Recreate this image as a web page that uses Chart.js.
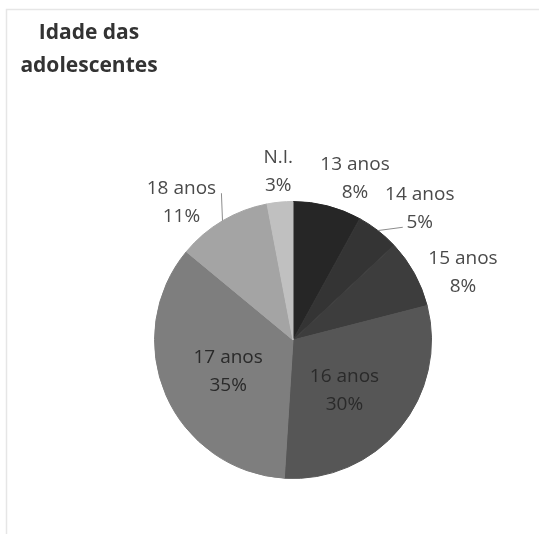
<!DOCTYPE html>
<html>
<head>
<meta charset="utf-8">
<script src="https://cdn.jsdelivr.net/npm/chart.js@4/dist/chart.umd.min.js"></script>
<style>
html,body{margin:0;padding:0;background:#fff;}
canvas{display:block;}
</style>
</head>
<body>
<canvas id="c" width="539" height="534"></canvas>
<script>
// ---- data ----
const categories = ['13 anos', '14 anos', '15 anos', '16 anos', '17 anos', '18 anos', 'N.I.'];
const shares = [8, 5, 8, 30, 35, 11, 3];
const pctLabels = ['8%', '5%', '8%', '30%', '35%', '11%', '3%'];
const titleLines = ['Idade das', 'adolescentes'];

// ---- style ----
const sliceColors = ['#262626', '#343434', '#3d3d3d', '#565656', '#7e7e7e', '#a4a4a4', '#c0c0c0'];
// label placement relative to each slice: angle shift (deg, clockwise) and radius factor
const labelPlacement = [
  {shift: 6.6, r: 1.25, color: '#4a4a4a'},
  {shift: 6.1, r: 1.32, color: '#4a4a4a', leader: {dx: -17, dy: 19}},
  {shift: 7.2, r: 1.32, color: '#4a4a4a'},
  {shift: 4.8, r: 0.52, color: '#2a2a2a'},
  {shift: -2.4, r: 0.52, color: '#2a2a2a'},
  {shift: -8.4, r: 1.28, color: '#4a4a4a', leader: {dx: 40, dy: -9}},
  {shift: 0.4, r: 1.22, color: '#4a4a4a'}
];
const labelFont = '19px "Open Sans", "Noto Sans", sans-serif';
const lineGap = 28;

const framePlugin = {
  id: 'frame',
  beforeDraw(chart) {
    const ctx = chart.ctx;
    ctx.save();
    ctx.strokeStyle = '#e6e6e6';
    ctx.lineWidth = 1.5;
    ctx.beginPath();
    ctx.moveTo(539, 9.5);
    ctx.lineTo(6.5, 9.5);
    ctx.lineTo(6.5, 534);
    ctx.stroke();
    // title
    ctx.fillStyle = '#333333';
    ctx.font = 'bold 21px "Open Sans", "Noto Sans", sans-serif';
    ctx.textAlign = 'center';
    ctx.textBaseline = 'alphabetic';
    titleLines.forEach((t, i) => ctx.fillText(t, 89, 39 + i * 33));
    ctx.restore();
  }
};

const labelPlugin = {
  id: 'sliceLabels',
  afterDatasetsDraw(chart) {
    const ctx = chart.ctx;
    const meta = chart.getDatasetMeta(0);
    ctx.save();
    ctx.font = labelFont;
    ctx.textAlign = 'center';
    ctx.textBaseline = 'middle';
    meta.data.forEach((arc, i) => {
      const p = arc.getProps(['x', 'y', 'startAngle', 'endAngle', 'outerRadius'], true);
      const pl = labelPlacement[i];
      const mid = (p.startAngle + p.endAngle) / 2;
      const a = mid + pl.shift * Math.PI / 180;
      const ax = p.x + Math.cos(a) * p.outerRadius * pl.r;
      const ay = p.y + Math.sin(a) * p.outerRadius * pl.r;
      if (pl.leader) {
        ctx.strokeStyle = '#8c8c8c';
        ctx.lineWidth = 1;
        ctx.beginPath();
        ctx.moveTo(p.x + Math.cos(mid) * p.outerRadius, p.y + Math.sin(mid) * p.outerRadius);
        ctx.lineTo(ax + pl.leader.dx, ay + pl.leader.dy);
        ctx.stroke();
      }
      ctx.fillStyle = pl.color;
      ctx.fillText(categories[i], ax, ay - lineGap / 2);
      ctx.fillText(pctLabels[i], ax, ay + lineGap / 2);
    });
    ctx.restore();
  }
};

new Chart(document.getElementById('c'), {
  type: 'pie',
  data: {
    labels: categories,
    datasets: [{
      data: shares,
      backgroundColor: sliceColors,
      borderColor: sliceColors,
      borderWidth: 1
    }]
  },
  options: {
    responsive: false,
    animation: false,
    layout: {padding: {left: 154, right: 107, top: 201, bottom: 55}},
    plugins: {
      legend: {display: false},
      title: {display: false},
      tooltip: {enabled: false}
    }
  },
  plugins: [framePlugin, labelPlugin]
});
</script>
</body>
</html>
